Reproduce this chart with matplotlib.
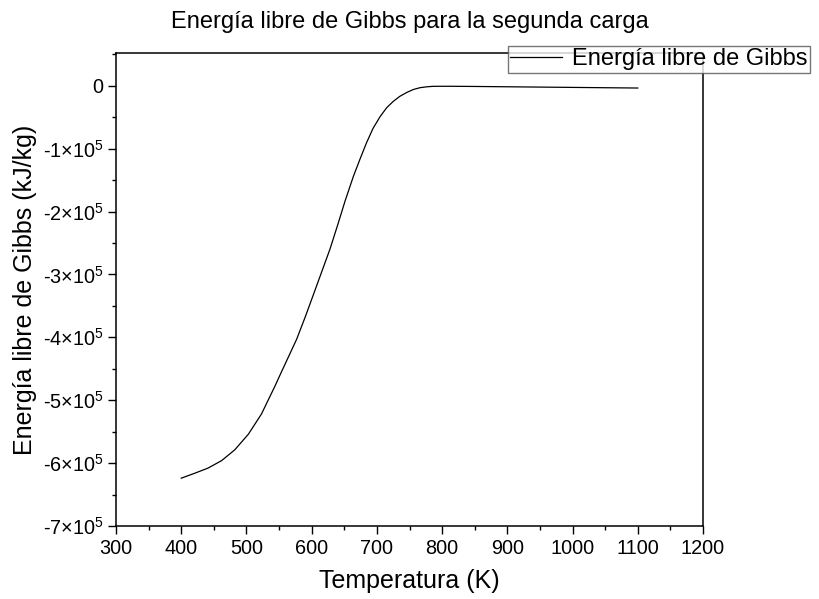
import matplotlib
matplotlib.use("Agg")
import matplotlib.pyplot as plt
from matplotlib.ticker import MultipleLocator, FuncFormatter

plt.rcParams['font.family'] = ['Liberation Sans', 'DejaVu Sans']
plt.rcParams['mathtext.fontset'] = 'custom'
plt.rcParams['mathtext.rm'] = 'Liberation Sans'
plt.rcParams['mathtext.it'] = 'Liberation Sans'

temperature = [400, 421, 441, 462, 482, 503, 523, 544, 551, 564, 577, 590,
               602, 615, 628, 640, 651, 664, 674, 684, 694, 705, 715, 725,
               735, 746, 756, 766, 776, 786, 800, 812, 850, 900, 950, 1000,
               1050, 1100]
gibbs = [-624000, -616000, -608000, -596000, -579000, -554000, -522000,
         -477000, -461000, -432000, -403000, -368000, -334000, -297000,
         -260000, -221000, -184000, -144000, -117000, -91000, -68000,
         -49000, -35000, -25000, -17000, -10600, -6000, -3200, -1800,
         -1000, -900, -900, -1200, -1700, -2200, -2700, -3200, -3700]

title = "Energía libre de Gibbs para la segunda carga"
xlabel = "Temperatura (K)"
ylabel = "Energía libre de Gibbs (kJ/kg)"
legend_label = "Energía libre de Gibbs"

fig = plt.figure(figsize=(8.19, 5.99), dpi=100)
ax = fig.add_axes([116/819, 1 - 526/599, 587/819, 473/599])
ax.plot(temperature, gibbs, color='black', lw=0.9, label=legend_label)

ax.set_xlim(300, 1200)
ax.set_ylim(-700000, 52000)
ax.xaxis.set_major_locator(MultipleLocator(100))
ax.xaxis.set_minor_locator(MultipleLocator(50))
ax.yaxis.set_major_locator(MultipleLocator(100000))
ax.yaxis.set_minor_locator(MultipleLocator(50000))

def yfmt(v, pos):
    n = int(round(v / 100000))
    if n == 0:
        return "0"
    return r"-%d$\times$10$^{5}$" % abs(n)

ax.yaxis.set_major_formatter(FuncFormatter(yfmt))
ax.tick_params(which='both', direction='out', top=False, right=False,
               labelsize=14.3, width=1)
ax.tick_params(which='major', length=5.5)
ax.tick_params(which='minor', length=3)
for s in ax.spines.values():
    s.set_linewidth(1.1)

ax.set_xlabel(xlabel, fontsize=18, labelpad=8)
ax.set_ylabel(ylabel, fontsize=18, labelpad=4)
ax.set_title(title, fontsize=17, pad=18)

leg = ax.legend(loc='upper left', bbox_to_anchor=(0.668, 1.015),
                fancybox=False, frameon=True, edgecolor='#555555',
                fontsize=17, handlelength=2.2, borderpad=0.1,
                handletextpad=0.42, borderaxespad=0)
leg.get_frame().set_linewidth(1.0)
leg.set_clip_on(False)

fig.savefig("out.png", dpi=100)
